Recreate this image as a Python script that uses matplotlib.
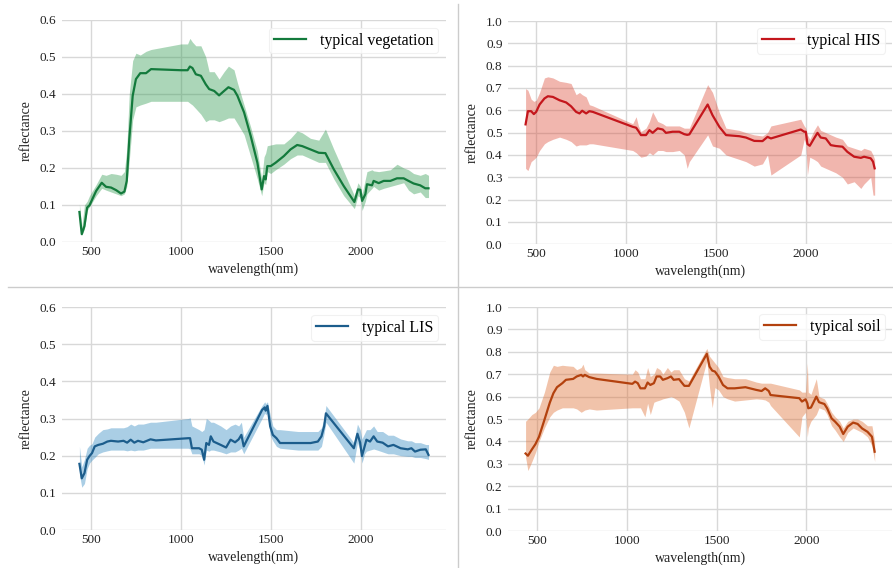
import matplotlib
matplotlib.use("Agg")
import matplotlib.pyplot as plt
from matplotlib.lines import Line2D

plt.rcParams['font.family'] = ['Liberation Serif', 'DejaVu Serif']

# ---------------- data ----------------
veg_wl = [435, 448, 463, 478, 491, 528, 559, 583, 611, 639, 666, 685, 698, 712, 731, 749, 773, 805, 833,
          999, 1036, 1049, 1063, 1082, 1110, 1137, 1156, 1184, 1211, 1239, 1263, 1294, 1313, 1350, 1387,
          1424, 1448, 1461, 1470, 1479, 1498, 1525, 1571, 1608, 1645, 1673, 1719, 1765, 1802, 1849, 1904,
          1963, 1983, 1996, 2006, 2024, 2033, 2061, 2070, 2098, 2126, 2163, 2200, 2237, 2264, 2292, 2329,
          2357, 2375]
veg_mean = [0.081, 0.021, 0.043, 0.093, 0.099, 0.138, 0.160, 0.149, 0.147, 0.140, 0.131, 0.136, 0.165,
            0.277, 0.395, 0.440, 0.456, 0.456, 0.467, 0.464, 0.464, 0.474, 0.470, 0.453, 0.449, 0.426,
            0.413, 0.408, 0.396, 0.408, 0.418, 0.411, 0.395, 0.350, 0.286, 0.214, 0.142, 0.178, 0.169,
            0.205, 0.205, 0.214, 0.232, 0.250, 0.262, 0.259, 0.250, 0.241, 0.240, 0.196, 0.151, 0.108,
            0.142, 0.141, 0.111, 0.129, 0.156, 0.153, 0.165, 0.159, 0.165, 0.165, 0.172, 0.172, 0.165,
            0.158, 0.153, 0.145, 0.145]
veg_hi = [0.103, 0.040, 0.100, 0.110, 0.125, 0.155, 0.183, 0.180, 0.185, 0.183, 0.180, 0.190, 0.250,
          0.400, 0.490, 0.510, 0.505, 0.515, 0.520, 0.535, 0.535, 0.550, 0.540, 0.530, 0.530, 0.500,
          0.460, 0.460, 0.440, 0.460, 0.475, 0.465, 0.430, 0.370, 0.310, 0.245, 0.170, 0.230, 0.240,
          0.260, 0.262, 0.265, 0.265, 0.280, 0.300, 0.295, 0.280, 0.275, 0.305, 0.250, 0.190, 0.125,
          0.160, 0.150, 0.130, 0.170, 0.190, 0.195, 0.192, 0.190, 0.192, 0.195, 0.210, 0.200, 0.195,
          0.185, 0.180, 0.185, 0.180]
veg_lo = [0.070, 0.018, 0.035, 0.085, 0.095, 0.125, 0.145, 0.140, 0.135, 0.130, 0.125, 0.130, 0.150,
          0.220, 0.330, 0.365, 0.370, 0.375, 0.380, 0.380, 0.380, 0.375, 0.370, 0.360, 0.345, 0.325,
          0.330, 0.330, 0.325, 0.330, 0.335, 0.335, 0.320, 0.290, 0.230, 0.170, 0.125, 0.160, 0.155,
          0.190, 0.185, 0.195, 0.210, 0.225, 0.235, 0.235, 0.225, 0.215, 0.215, 0.170, 0.125, 0.090,
          0.125, 0.120, 0.085, 0.110, 0.130, 0.145, 0.150, 0.140, 0.145, 0.150, 0.155, 0.160, 0.140,
          0.130, 0.135, 0.120, 0.120]

his_wl = [441, 454, 472, 487, 500, 519, 546, 565, 593, 630, 667, 694, 722, 741, 756, 778, 796, 815,
          1037, 1056, 1069, 1083, 1111, 1130, 1148, 1176, 1204, 1222, 1259, 1296, 1324, 1340, 1352, 1454,
          1481, 1519, 1556, 1630, 1667, 1713, 1759, 1787, 1806, 1972, 1991, 2000, 2009, 2022, 2046,
          2065, 2083, 2111, 2139, 2167, 2204, 2231, 2269, 2306, 2324, 2361, 2374, 2383]
his_mean = [0.537, 0.596, 0.596, 0.583, 0.593, 0.626, 0.653, 0.663, 0.660, 0.645, 0.635, 0.618, 0.593,
            0.586, 0.598, 0.586, 0.596, 0.593, 0.526, 0.522, 0.507, 0.489, 0.489, 0.511, 0.499, 0.519,
            0.514, 0.499, 0.504, 0.504, 0.493, 0.490, 0.492, 0.626, 0.578, 0.526, 0.489, 0.484, 0.478,
            0.463, 0.462, 0.481, 0.474, 0.514, 0.504, 0.504, 0.449, 0.441, 0.474, 0.499, 0.478, 0.474,
            0.444, 0.440, 0.437, 0.414, 0.392, 0.387, 0.392, 0.385, 0.370, 0.340]
his_hi = [0.697, 0.690, 0.650, 0.640, 0.645, 0.680, 0.745, 0.750, 0.745, 0.730, 0.725, 0.720, 0.670,
          0.680, 0.670, 0.660, 0.625, 0.620, 0.540, 0.571, 0.530, 0.505, 0.520, 0.550, 0.593, 0.550,
          0.540, 0.530, 0.530, 0.530, 0.520, 0.520, 0.520, 0.715, 0.680, 0.590, 0.520, 0.510, 0.500,
          0.490, 0.485, 0.500, 0.530, 0.560, 0.530, 0.520, 0.490, 0.470, 0.510, 0.535, 0.510, 0.500,
          0.490, 0.480, 0.470, 0.440, 0.430, 0.420, 0.430, 0.420, 0.400, 0.380]
his_lo = [0.340, 0.330, 0.370, 0.380, 0.390, 0.420, 0.450, 0.460, 0.470, 0.480, 0.470, 0.460, 0.440,
          0.445, 0.445, 0.445, 0.450, 0.450, 0.420, 0.410, 0.400, 0.390, 0.395, 0.410, 0.400, 0.420,
          0.420, 0.415, 0.415, 0.420, 0.400, 0.340, 0.370, 0.490, 0.440, 0.430, 0.400, 0.380, 0.370,
          0.350, 0.360, 0.400, 0.310, 0.400, 0.470, 0.450, 0.310, 0.390, 0.380, 0.370, 0.350, 0.340,
          0.330, 0.320, 0.300, 0.270, 0.280, 0.250, 0.270, 0.300, 0.220, 0.220]

lis_wl = [435, 448, 463, 478, 491, 505, 520, 540, 565, 590, 610, 650, 680, 700, 720, 740, 760, 790, 830,
          860, 1040, 1050, 1060, 1100, 1115, 1128, 1140, 1155, 1165, 1180, 1220, 1250, 1275, 1300, 1320,
          1335, 1348, 1450, 1465, 1470, 1480, 1495, 1510, 1530, 1550, 1650, 1720, 1760, 1780, 1795,
          1805, 1960, 1980, 1995, 2005, 2020, 2030, 2050, 2070, 2090, 2120, 2150, 2180, 2220, 2260,
          2280, 2300, 2330, 2360, 2375]
lis_mean = [0.178, 0.139, 0.153, 0.189, 0.199, 0.207, 0.225, 0.229, 0.232, 0.238, 0.240, 0.238, 0.240,
            0.235, 0.243, 0.235, 0.240, 0.236, 0.244, 0.241, 0.247, 0.247, 0.220, 0.220, 0.216, 0.189,
            0.234, 0.229, 0.252, 0.238, 0.229, 0.222, 0.243, 0.236, 0.244, 0.256, 0.225, 0.323, 0.330,
            0.321, 0.334, 0.279, 0.256, 0.247, 0.234, 0.234, 0.234, 0.238, 0.252, 0.279, 0.314, 0.220,
            0.259, 0.235, 0.199, 0.225, 0.243, 0.238, 0.252, 0.238, 0.235, 0.225, 0.229, 0.220, 0.217,
            0.220, 0.211, 0.216, 0.217, 0.202]
lis_hi = [0.225, 0.170, 0.190, 0.220, 0.228, 0.232, 0.250, 0.260, 0.270, 0.272, 0.275, 0.275, 0.275,
          0.278, 0.285, 0.280, 0.285, 0.285, 0.290, 0.290, 0.300, 0.302, 0.280, 0.270, 0.265, 0.270,
          0.300, 0.295, 0.290, 0.290, 0.280, 0.270, 0.280, 0.285, 0.280, 0.290, 0.250, 0.335, 0.345,
          0.340, 0.345, 0.310, 0.280, 0.270, 0.270, 0.265, 0.265, 0.265, 0.275, 0.300, 0.335, 0.235,
          0.285, 0.270, 0.245, 0.260, 0.270, 0.270, 0.280, 0.265, 0.265, 0.255, 0.255, 0.245, 0.240,
          0.240, 0.235, 0.235, 0.230, 0.230]
lis_lo = [0.150, 0.115, 0.125, 0.165, 0.180, 0.188, 0.195, 0.205, 0.210, 0.213, 0.215, 0.215, 0.215,
          0.213, 0.215, 0.213, 0.215, 0.215, 0.220, 0.220, 0.220, 0.218, 0.205, 0.205, 0.200, 0.175,
          0.215, 0.212, 0.215, 0.215, 0.210, 0.205, 0.210, 0.210, 0.215, 0.220, 0.205, 0.300, 0.315,
          0.310, 0.315, 0.255, 0.240, 0.225, 0.220, 0.215, 0.215, 0.215, 0.225, 0.260, 0.290, 0.180,
          0.235, 0.215, 0.180, 0.205, 0.212, 0.215, 0.218, 0.215, 0.210, 0.205, 0.205, 0.200, 0.198,
          0.198, 0.195, 0.195, 0.192, 0.190]

soil_wl = [435, 448, 470, 490, 510, 540, 570, 590, 610, 640, 660, 700, 720, 745, 755, 765, 790, 830,
           1030, 1045, 1060, 1075, 1100, 1115, 1130, 1150, 1165, 1185, 1200, 1225, 1245, 1260, 1290,
           1320, 1345, 1445, 1460, 1475, 1490, 1510, 1535, 1560, 1600, 1660, 1720, 1750, 1770, 1790,
           1800, 1960, 1975, 1995, 2005, 2010, 2025, 2055, 2070, 2100, 2115, 2140, 2160, 2185, 2205,
           2230, 2260, 2285, 2310, 2340, 2365, 2380]
soil_mean = [0.346, 0.336, 0.364, 0.388, 0.421, 0.496, 0.573, 0.615, 0.642, 0.660, 0.675, 0.679,
             0.690, 0.697, 0.690, 0.697, 0.687, 0.679, 0.657, 0.667, 0.660, 0.637, 0.637, 0.663, 0.652,
             0.660, 0.690, 0.690, 0.675, 0.682, 0.690, 0.675, 0.678, 0.648, 0.648, 0.791, 0.734, 0.716,
             0.712, 0.690, 0.652, 0.637, 0.637, 0.642, 0.630, 0.625, 0.637, 0.625, 0.607, 0.593, 0.578,
             0.588, 0.570, 0.548, 0.551, 0.600, 0.575, 0.567, 0.548, 0.503, 0.488, 0.466, 0.433, 0.466,
             0.484, 0.478, 0.458, 0.443, 0.421, 0.354]
soil_hi = [0.490, 0.500, 0.520, 0.530, 0.550, 0.620, 0.710, 0.740, 0.735, 0.740, 0.738, 0.735, 0.720,
           0.730, 0.745, 0.720, 0.705, 0.705, 0.700, 0.720, 0.710, 0.680, 0.680, 0.730, 0.690, 0.700,
           0.730, 0.720, 0.700, 0.730, 0.710, 0.720, 0.720, 0.680, 0.670, 0.815, 0.780, 0.765, 0.750,
           0.730, 0.690, 0.685, 0.680, 0.680, 0.665, 0.660, 0.660, 0.660, 0.660, 0.630, 0.620, 0.620,
           0.750, 0.620, 0.610, 0.680, 0.600, 0.590, 0.570, 0.530, 0.510, 0.490, 0.460, 0.490, 0.500,
           0.500, 0.490, 0.470, 0.470, 0.400]
soil_lo = [0.330, 0.270, 0.310, 0.350, 0.400, 0.460, 0.510, 0.530, 0.540, 0.550, 0.550, 0.550, 0.545,
           0.530, 0.535, 0.540, 0.545, 0.540, 0.550, 0.550, 0.550, 0.550, 0.510, 0.570, 0.520, 0.575,
           0.580, 0.585, 0.590, 0.595, 0.600, 0.595, 0.580, 0.530, 0.460, 0.760, 0.640, 0.550, 0.640,
           0.630, 0.600, 0.590, 0.580, 0.585, 0.590, 0.588, 0.585, 0.575, 0.560, 0.420, 0.510, 0.530,
           0.420, 0.460, 0.490, 0.520, 0.550, 0.540, 0.520, 0.470, 0.450, 0.420, 0.400, 0.440, 0.460,
           0.450, 0.440, 0.420, 0.380, 0.310]

labels = ['typical vegetation', 'typical HIS', 'typical LIS', 'typical soil']
line_colors = ['#137a3c', '#c4161c', '#1c5d8c', '#b3410e']
fill_colors = ['#2e9a4f', '#dc4a36', '#2c86c0', '#de6a2c']
ymaxes = [0.6, 1.0, 0.6, 1.0]

series = [(veg_wl, veg_mean, veg_lo, veg_hi),
          (his_wl, his_mean, his_lo, his_hi),
          (lis_wl, lis_mean, lis_lo, lis_hi),
          (soil_wl, soil_mean, soil_lo, soil_hi)]

fig = plt.figure(figsize=(8.93, 5.68), dpi=100)
positions = [[0.0694, 0.574, 0.430, 0.391],
             [0.569, 0.570, 0.430, 0.393],
             [0.0694, 0.0669, 0.430, 0.3926],
             [0.569, 0.0651, 0.430, 0.3944]]
legend_anchor = [(0.979, 0.964), (0.982, 0.969), (0.979, 0.964), (0.982, 0.969)]

for i, (wl, mean, lo, hi) in enumerate(series):
    ax = fig.add_axes(positions[i])
    ax.set_facecolor('white')
    ax.fill_between(wl, lo, hi, color=fill_colors[i], alpha=0.4, linewidth=0, zorder=2)
    ax.plot(wl, mean, color=line_colors[i], lw=1.6, label=labels[i], zorder=3)
    ax.set_ylim(0, ymaxes[i])
    step = 0.1
    ticks = [round(k * step, 1) for k in range(int(round(ymaxes[i] / step)) + 1)]
    ax.set_yticks(ticks)
    ax.set_yticklabels([f'{t:.1f}' for t in ticks])
    ax.set_xticks([500, 1000, 1500, 2000])
    ax.grid(True, color='#d8d8d8', lw=1.0, zorder=1)
    ax.set_axisbelow(True)
    for s in ax.spines.values():
        s.set_visible(False)
    ax.tick_params(length=0, labelsize=9.5, colors='#222222')
    ax.tick_params(axis='y', pad=4)
    ax.tick_params(axis='x', pad=3)
    ax.set_xlabel('wavelength(nm)', fontsize=10, labelpad=3, color='#222222')
    ax.set_ylabel('reflectance', fontsize=10, labelpad=5, color='#222222')
    leg = ax.legend(loc='upper right', fontsize=11.5, frameon=True, borderpad=0.3,
                    handlelength=2.0, handletextpad=0.85, borderaxespad=0,
                    bbox_to_anchor=legend_anchor[i], fancybox=True)
    leg.get_frame().set_edgecolor('#eeeeee')
    leg.get_frame().set_linewidth(0.8)

# panel separators
fig.add_artist(Line2D([8 / 893, 1.0], [1 - 287 / 568, 1 - 287 / 568], color='#cccccc', lw=1.0))
fig.add_artist(Line2D([458 / 893, 458 / 893], [0.0, 1 - 4 / 568], color='#cccccc', lw=1.0))

fig.savefig('out.png', dpi=100, facecolor='white')
